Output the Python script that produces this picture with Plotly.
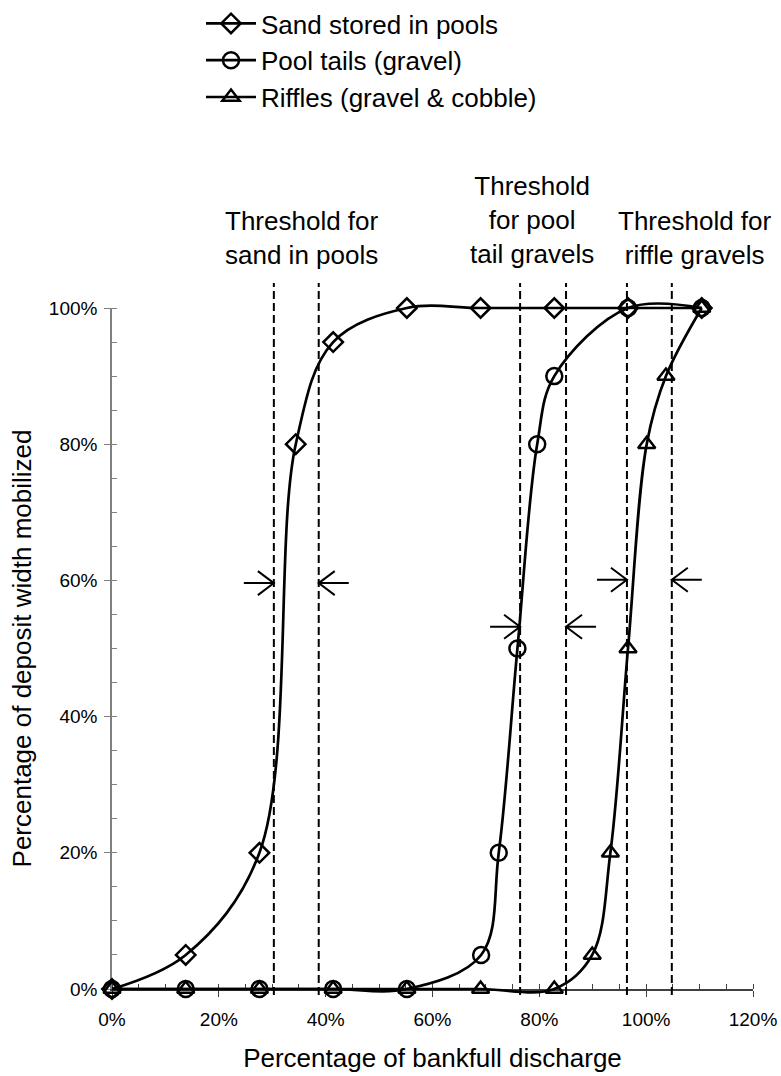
import plotly.graph_objects as go

# ---- data ----
sand_x = [0, 13.8, 27.6, 34.4, 41.4, 55.2, 69.0, 82.8, 96.6, 110.4]
sand_y = [0, 5, 20, 80, 95, 100, 100, 100, 100, 100]

pool_x = [0, 13.8, 27.6, 41.4, 55.2, 69.1, 72.4, 75.9, 79.6, 82.8, 96.6, 110.4]
pool_y = [0, 0, 0, 0, 0, 5, 20, 50, 80, 90, 100, 100]

riffle_x = [0, 13.8, 27.6, 41.4, 55.2, 69.0, 82.8, 89.9, 93.3, 96.6, 100.1, 103.7, 110.4]
riffle_y = [0, 0, 0, 0, 0, 0, 0, 5, 20, 50, 80, 90, 100]

series_names = ["Sand stored in pools", "Pool tails (gravel)", "Riffles (gravel & cobble)"]

# threshold ranges (low, high) and the height of the arrows marking them
thr_low = [30.3, 76.4, 96.4]
thr_high = [38.7, 85.0, 104.8]
arrow_level = [59.6, 53.2, 60.1]
thr_labels = ["Threshold for<br>sand in pools",
              "Threshold<br>for pool<br>tail gravels",
              "Threshold for<br>riffle gravels"]
label_x = [35.6, 78.6, 109.1]

x_ticks = [0, 20, 40, 60, 80, 100, 120]
y_ticks = [0, 20, 40, 60, 80, 100]

# ---- layout geometry (pixels) ----
W, H = 781, 1076
ML, MR, MT, MB = 112, 28, 290, 70
Y0_PX, Y100_PX = 989, 308          # pixel rows of 0% and 100%
XR = [0, 120]
plot_h = H - MT - MB
px_x = (W - ML - MR) / (XR[1] - XR[0])
px_y = (Y0_PX - Y100_PX) / 100.0


def paper_y(px):
    return (H - MB - px) / plot_h


# hidden data axis spanning the whole plot area with the same scale as the visible one
y2_range = [-(H - MB - Y0_PX) / px_y, 100 + (Y100_PX - MT) / px_y]
label_py = [238, 220, 238]

FONT = "Liberation Sans, Arial, sans-serif"

fig = go.Figure()
# empty trace so that the visible percentage axis gets drawn
fig.add_trace(go.Scatter(x=[None], y=[None], xaxis="x", yaxis="y", showlegend=False,
                         hoverinfo="skip", mode="markers"))
symbols = ["diamond-open", "circle-open", "triangle-up-open"]
sizes = [15, 16, 15]
for i, (xs, ys) in enumerate([(sand_x, sand_y), (pool_x, pool_y), (riffle_x, riffle_y)]):
    fig.add_trace(go.Scatter(
        x=xs, y=ys, name=series_names[i], mode="lines+markers", yaxis="y2",
        line=dict(color="black", width=2.7, shape="spline", smoothing=1),
        marker=dict(symbol=symbols[i], size=sizes[i], color="black", line=dict(width=2.5, color="black")),
        cliponaxis=False, legendgroup=f"g{i}",
    ))

shapes = []
for lo, hi in zip(thr_low, thr_high):
    for xv in (lo, hi):
        shapes.append(dict(type="line", xref="x", yref="paper", x0=xv, x1=xv,
                           y0=paper_y(995), y1=paper_y(283),
                           line=dict(color="black", width=2, dash="8px,4px")))

shaft = 30 / px_x
back = 16 / px_x
half = 12 / px_y
for lo, hi, yl in zip(thr_low, thr_high, arrow_level):
    p1 = (f"M{lo - shaft},{yl} L{lo},{yl} M{lo - back},{yl + half} L{lo},{yl} L{lo - back},{yl - half}")
    p2 = (f"M{hi + shaft},{yl} L{hi},{yl} M{hi + back},{yl + half} L{hi},{yl} L{hi + back},{yl - half}")
    for p in (p1, p2):
        shapes.append(dict(type="path", xref="x", yref="y2", path=p, line=dict(color="black", width=2)))

annotations = []
for t, lx, ly in zip(thr_labels, label_x, label_py):
    annotations.append(dict(text=t, x=lx, y=paper_y(ly), xref="x", yref="paper", showarrow=False,
                            font=dict(size=26, color="black", family=FONT), align="center",
                            xanchor="center", yanchor="middle"))

fig.update_layout(
    width=W, height=H,
    margin=dict(l=ML, r=MR, t=MT, b=MB, autoexpand=False),
    paper_bgcolor="white", plot_bgcolor="rgba(0,0,0,0)",
    font=dict(family=FONT, color="black"),
    shapes=shapes, annotations=annotations,
    showlegend=True,
    legend=dict(x=(201 - ML) / (W - ML - MR), y=paper_y(0), xanchor="left", yanchor="top",
                font=dict(size=26, color="black"),
                itemwidth=50, tracegroupgap=0, bgcolor="rgba(0,0,0,0)"),
    xaxis=dict(range=XR, tickvals=x_ticks, ticktext=[f"{v}%" for v in x_ticks], anchor="y",
               showgrid=False, zeroline=False, showline=True, linecolor="#404040", linewidth=1.5,
               ticks="outside", ticklen=6, tickcolor="#404040", tickfont=dict(size=19),
               ticklabelstandoff=6,
               minor=dict(dtick=5, ticks="inside", ticklen=5, tickcolor="#404040"),
               title=dict(text="Percentage of bankfull discharge", font=dict(size=26), standoff=20)),
    yaxis=dict(range=[0, 100], domain=[paper_y(Y0_PX), paper_y(Y100_PX)], anchor="x",
               tickvals=y_ticks, ticktext=[f"{v}%" for v in y_ticks],
               showgrid=False, zeroline=False, showline=True, linecolor="#808080", linewidth=1.5,
               ticks="outside", ticklen=6, tickcolor="#808080", tickfont=dict(size=19),
               ticklabelstandoff=3,
               minor=dict(dtick=5, ticks="inside", ticklen=5, tickcolor="#808080"),
               title=dict(text="Percentage of deposit width mobilized", font=dict(size=26), standoff=10)),
    yaxis2=dict(range=y2_range, domain=[0, 1], anchor="x", visible=False, showgrid=False, zeroline=False),
)

fig.write_html("out.html")
